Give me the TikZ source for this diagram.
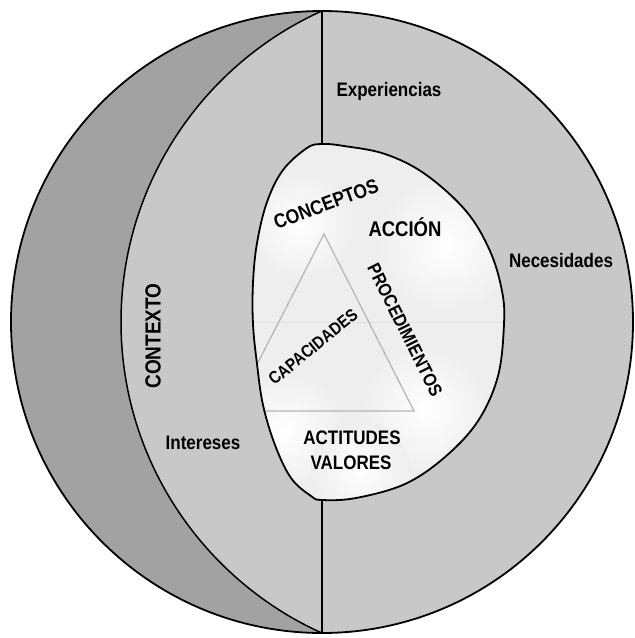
\documentclass[tikz,border=0pt]{standalone}
\usepackage{fontspec}
\setmainfont{Liberation Sans}
\definecolor{lightg}{HTML}{C8C8C8}
\definecolor{darkg}{HTML}{A2A2A2}
\definecolor{blobg}{HTML}{EEEEEE}
\definecolor{trig}{HTML}{B4B4B4}
\tikzset{
  lbl/.style={font=\bfseries\fontsize{#1}{#1}\selectfont, inner sep=0pt, text=black},
  lbl/.default=17,
  tall/.style={yscale=1.15},
  bord/.style={line width=1.8pt, draw=black},
  glow/.style={inner color=white, outer color=blobg},
}
\newcommand{\blobpath}{plot[smooth cycle, tension=0.6] coordinates {
 (322,144) (307,148) (283,170) (267,202) (257,243) (253,283) (253,324)
 (257,364) (263,405) (275,445) (291,478) (311,496) (322,500) (356,498)
 (405,484) (445,457) (478,421) (498,376) (504,324) (502,291) (490,251)
 (466,211) (425,174) (385,154) (344,146)}}
\begin{document}
\begin{tikzpicture}[x=1pt,y=-1pt]
\useasboundingbox (0,0) rectangle (635,638);
\fill[white] (0,0) rectangle (635,638);
% outer disk and crescent
\begin{scope}
  \clip (322,322) circle[radius=311];
  \fill[darkg] (322,322) circle[radius=311];
  \fill[lightg] (462.1,322) circle[radius=341.1];
  \draw[line width=1.5pt] (462.1,322) circle[radius=341.1];
\end{scope}
\draw[bord] (322,322) circle[radius=311];
% inner blob
\fill[blobg] \blobpath;
\begin{scope}
  \clip \blobpath;
  \shade[glow] (300,225) circle[radius=55];
  \shade[glow] (445,245) circle[radius=70];
  \shade[glow] (285,430) circle[radius=60];
  \shade[glow] (425,410) circle[radius=65];
  \shade[glow] (360,470) circle[radius=50];
  \draw[line width=0.4pt, draw=black!12] (240,322) -- (520,322);
  \draw[line width=1.2pt, draw=trig] (324,234) -- (414,411) -- (233,411) -- cycle;
\end{scope}
\draw[bord] \blobpath;
% vertical dividers
\coordinate (ctop) at (322,11);
\coordinate (btop) at (322,144);
\coordinate (bbot) at (322,500);
\coordinate (cbot) at (322,633);
\draw[line width=1.5pt] (ctop) -- (btop);
\draw[line width=1.5pt] (bbot) -- (cbot);
% labels
\node[lbl=17, tall] (exp) at (389,91) {Experiencias};
\node[lbl=17, tall] (nec) at (561,261) {Necesidades};
\node[lbl=17, tall] (int) at (203,443) {Intereses};
\node[lbl=19, rotate=90, tall] (ctx) at (153,336) {CONTEXTO};
\node[lbl=17.4, rotate=20.4, tall] (con) at (326,204) {CONCEPTOS};
\node[lbl=18.5, tall] (acc) at (405,227) {ACCIÓN};
\node[lbl=16, rotate=-63.4, tall] (pro) at (405,330) {PROCEDIMIENTOS};
\node[lbl=15, rotate=39, tall] (cap) at (313,347) {CAPACIDADES};
\node[lbl=17, tall] (act) at (352,438) {ACTITUDES};
\node[lbl=17, tall] (val) at (351,463) {VALORES};
\end{tikzpicture}
\end{document}
